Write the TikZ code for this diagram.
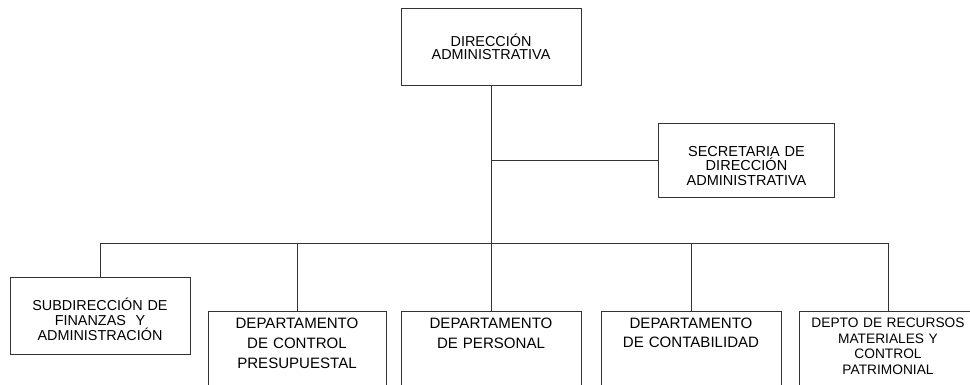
\documentclass[tikz,border=0pt]{standalone}
\usepackage{fontspec}
\setmainfont{Liberation Sans}

\begin{document}
\begin{tikzpicture}[x=0.75pt, y=-0.75pt,
        unidad/.style={draw=black!80, line width=0.7pt, align=center, text width=129pt, inner xsep=3pt},
        arriba/.style={unidad, minimum height=57.75pt},
        abajo/.style={unidad, anchor=north, inner ysep=5pt, text depth=62pt},
        linea/.style={draw=black!80, line width=0.7pt}]

        \path[use as bounding box, clip] (0, 0) rectangle (970, 385);

        % jefatura
        \node[arriba, font=\fontsize{10.8}{10}\selectfont] (dir) at (491, 46.5) {DIRECCIÓN\\ADMINISTRATIVA};
        \node[arriba, text width=126pt, minimum height=55.5pt, text height=16.5pt, font=\fontsize{10.9}{10.9}\selectfont] (sec) at (746.5, 160) {SECRETARIA DE\\DIRECCIÓN\\ADMINISTRATIVA};

        % dependencias
        \node[arriba, text height=15.5pt, font=\fontsize{10.8}{11.3}\selectfont] (sub) at (100, 315.5) {SUBDIRECCIÓN DE\\FINANZAS\ \ Y\\ADMINISTRACIÓN};
        \node[abajo, text width=127.5pt, font=\fontsize{11.3}{15}\selectfont] (pres) at (297, 311) {DEPARTAMENTO\\DE CONTROL\\PRESUPUESTAL};
        \node[abajo, font=\fontsize{11.3}{15}\selectfont] (pers) at (491, 311) {DEPARTAMENTO\\DE PERSONAL};
        \node[abajo, font=\fontsize{11.3}{14.5}\selectfont] (cont) at (691, 311) {DEPARTAMENTO\\DE CONTABILIDAD};
        \node[abajo, text width=127.5pt, font=\fontsize{10.3}{11.6}\selectfont] (rec) at (888, 311) {DEPTO DE RECURSOS\\MATERIALES Y\\CONTROL\\PATRIMONIAL};

        \coordinate (bus) at (491, 243);

        \draw[linea] (dir) -- (pers);
        \draw[linea] (dir.south |- sec.west) -- (sec.west);
        \draw[linea] (sub.north) -- (sub.north |- bus) -- (rec.north |- bus) -- (rec.north);
        \foreach \n in {pres, cont}
            \draw[linea] (\n.north |- bus) -- (\n.north);

\end{tikzpicture}
\end{document}
